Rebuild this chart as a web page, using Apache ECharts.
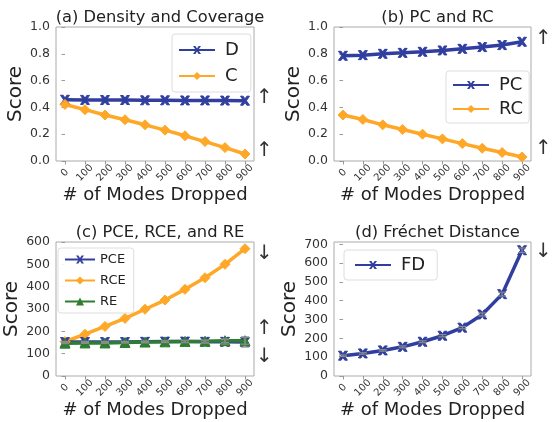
<!DOCTYPE html>
<html><head><meta charset="utf-8">
<script src="https://cdn.jsdelivr.net/npm/echarts@6/dist/echarts.min.js"></script>
<style>html,body{margin:0;padding:0;background:#fff}#c{width:554px;height:422px}</style>
</head><body><div id="c"></div>
<script>
const modes = [0,100,200,300,400,500,600,700,800,900];
const tickLabels = [0,100,200,300,400,500,600,700,800,900];
const D   = [0.457,0.456,0.455,0.455,0.453,0.453,0.452,0.452,0.451,0.450];
const C   = [0.422,0.383,0.343,0.308,0.270,0.230,0.188,0.145,0.100,0.052];
const PC  = [0.785,0.790,0.800,0.807,0.815,0.825,0.837,0.850,0.865,0.890];
const RC  = [0.343,0.310,0.270,0.235,0.200,0.165,0.130,0.095,0.063,0.030];
const PCE = [152,152,152,152,153,154,154,153,153,152];
const RCE = [154,187,222,258,299,340,388,440,500,570];
const RE  = [147,148,148,150,152,153,155,156,158,158];
const FD  = [108,120,136,155,182,214,257,327,435,668];
const PCE_err = [3,3,3,3,4,4,5,6,10,22];
const RE_err  = [2,2,2,2,3,3,4,5,8,16];
const FD_err  = [4,4,4,5,5,6,6,8,10,12];

const BLUE='#303F9F', ORANGE='#FFA726', GREEN='#2E7D32';
const FONT='DejaVu Sans';
const chart = echarts.init(document.getElementById('c'));

const grids = [
  {left:56, width:198, top:27, height:134},
  {left:334, width:197, top:27, height:134},
  {left:56, width:198, top:242, height:134},
  {left:334, width:197, top:242, height:134}
];
const yCfg = [
  {min:0,max:1,interval:0.2,fmt:v=>v.toFixed(1)},
  {min:0,max:1,interval:0.2,fmt:v=>v.toFixed(1)},
  {min:0,max:600,interval:100,fmt:v=>String(v)},
  {min:0,max:712,interval:100,fmt:v=>String(v),custom:[0,100,200,300,400,500,600,700]}
];
const titles = ['(a) Density and Coverage','(b) PC and RC','(c) PCE, RCE, and RE','(d) Fréchet Distance'];

const xAxes = grids.map((g,i)=>({
  type:'value', gridIndex:i, min:-45, max:945,
  name:'# of Modes Dropped', nameLocation:'middle', nameGap: i<2?23:19,
  nameTextStyle:{fontFamily:FONT,fontSize:18,color:'#222'},
  axisLine:{show:false},
  axisTick:{show:true,length:3.5,lineStyle:{color:'#999'},customValues:tickLabels},
  axisLabel:{customValues:tickLabels,rotate:45,align:'center',verticalAlign:'middle',margin:12,
    fontFamily:FONT,fontSize:10,color:'#333'},
  splitLine:{show:false}
}));
const yAxes = grids.map((g,i)=>{
  const c=yCfg[i];
  const a={type:'value',gridIndex:i,min:c.min,max:c.max,interval:c.interval,
    name:'Score',nameLocation:'middle',nameGap:i%2===0?29:28,
    nameTextStyle:{fontFamily:FONT,fontSize:20,color:'#222'},
    axisLine:{show:false},
    axisTick:{show:true,length:3.5,lineStyle:{color:'#999'}},
    axisLabel:{formatter:c.fmt,fontFamily:FONT,fontSize:12.5,color:'#333',margin:6},
    splitLine:{show:false}};
  if(c.custom){a.axisTick.customValues=c.custom;a.axisLabel.customValues=c.custom;}
  return a;
});

function lineSeries(name,data,color,symbol,gi,size){
  return {name,type:'line',xAxisIndex:gi,yAxisIndex:gi,
    data:modes.map((m,k)=>[m,data[k]]),
    lineStyle:{color,width:3.5},itemStyle:{color,borderColor:color},
    symbol,symbolSize:size||9,showSymbol:true,z:3};
}
function errSeries(name,data,err,gi){
  return {name:name+'_err',type:'custom',xAxisIndex:gi,yAxisIndex:gi,z:4,silent:true,
    data:modes.map((m,k)=>[m,data[k]-err[k],data[k]+err[k]]),
    renderItem:(p,api)=>{
      const lo=api.coord([api.value(0),api.value(1)]);
      const hi=api.coord([api.value(0),api.value(2)]);
      const st={stroke:'#8a8a8a',lineWidth:1.2};
      return {type:'group',children:[
        {type:'line',shape:{x1:lo[0],y1:lo[1],x2:hi[0],y2:hi[1]},style:st},
        {type:'line',shape:{x1:lo[0]-4,y1:lo[1],x2:lo[0]+4,y2:lo[1]},style:st},
        {type:'line',shape:{x1:hi[0]-4,y1:hi[1],x2:hi[0]+4,y2:hi[1]},style:st}]};
    }};
}
const xIcon='path://M0,0 L3,0 L5,3 L7,0 L10,0 L6.5,5 L10,10 L7,10 L5,7 L3,10 L0,10 L3.5,5 Z';

const series=[
  lineSeries('D',D,BLUE,xIcon,0),
  lineSeries('C',C,ORANGE,'diamond',0,10),
  lineSeries('PC',PC,BLUE,xIcon,1),
  lineSeries('RC',RC,ORANGE,'diamond',1,10),
  lineSeries('RCE',RCE,ORANGE,'diamond',2,10),
  lineSeries('PCE',PCE,BLUE,xIcon,2),
  lineSeries('RE',RE,GREEN,'triangle',2,10),
  errSeries('PCE',PCE,PCE_err,2),
  errSeries('RE',RE,RE_err,2),
  lineSeries('FD',FD,BLUE,xIcon,3),
  errSeries('FD',FD,FD_err,3)
];

const legBase={orient:'vertical',backgroundColor:'rgba(255,255,255,0.9)',borderColor:'#ddd',borderWidth:1,borderRadius:3,
  itemWidth:36,itemHeight:10,textStyle:{fontFamily:FONT,color:'#222'}};
const bigText={fontFamily:FONT,fontSize:18,color:'#222',padding:[0,0,0,5]};
const legends=[
  Object.assign({},legBase,{data:['D','C'],left:172,top:34,itemGap:8,padding:[7,12,7,6],textStyle:bigText}),
  Object.assign({},legBase,{data:['PC','RC'],left:446,top:71,itemGap:6,padding:[5,6,5,6],textStyle:bigText}),
  Object.assign({},legBase,{data:['PCE','RCE','RE'],left:58,top:248,itemGap:8,itemWidth:30,padding:[5,8,5,6],textStyle:{fontFamily:FONT,fontSize:13,color:'#222'}}),
  Object.assign({},legBase,{data:['FD'],left:344,top:250,padding:[6,12,6,10],textStyle:bigText})
];

const titleObjs=titles.map((t,i)=>({text:t,left:grids[i].left+grids[i].width/2,top:i<2?5:220,textAlign:'center',
  textStyle:{fontFamily:FONT,fontSize:16.3,fontWeight:'normal',color:'#222'}}));

function arrow(ch,x,y){return {type:'text',left:x,top:y,style:{text:ch,font:'20px "DejaVu Sans"',fill:'#333'}};}
chart.setOption({
  animation:false,
  title:titleObjs,
  grid:grids.map(g=>Object.assign({show:true,borderColor:'#aaa',borderWidth:1,backgroundColor:'transparent'},g)),
  xAxis:xAxes, yAxis:yAxes, legend:legends, series,
  graphic:[arrow('↑',256,88),arrow('↑',256,141),arrow('↑',535,29),arrow('↑',535,139),
           arrow('↓',256,244),arrow('↑',256,319),arrow('↓',256,347),arrow('↓',535,242)]
});
</script></body></html>
